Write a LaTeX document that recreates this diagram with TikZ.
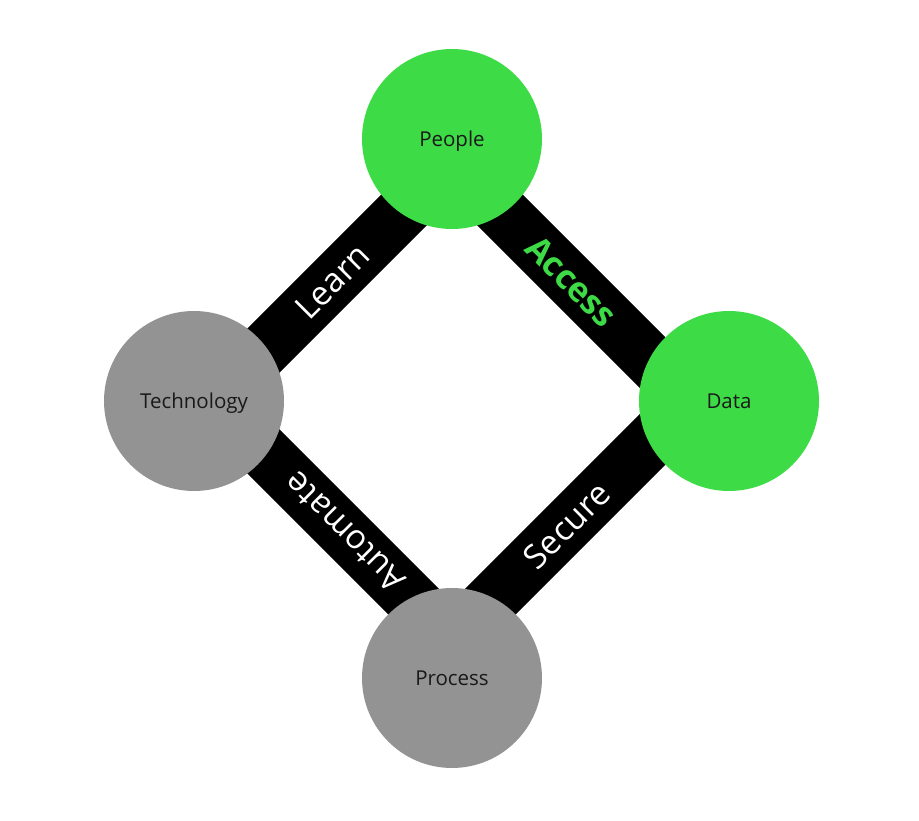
\documentclass[tikz,border=0pt]{standalone}
\usepackage{fontspec}
\setmainfont{Open Sans}
\usetikzlibrary{backgrounds}
\definecolor{leafgreen}{RGB}{61,219,70}
\definecolor{stonegray}{RGB}{147,147,147}

\begin{document}
\begin{tikzpicture}[
  x=1pt, y=-1pt,
  hub/.style={circle, minimum size=180pt, inner sep=0pt, text depth=0pt, font=\fontsize{20.5}{24}\selectfont, text=black!90},
  keyhub/.style={hub, fill=leafgreen},
  basehub/.style={hub, fill=stonegray},
  band/.style={line width=54pt, black, line cap=rect},
  tag/.style={font=\fontsize{33.5}{38}\selectfont, text=white},
  keytag/.style={font=\fontsize{34}{38}\selectfont\bfseries, text=leafgreen}
]
  \useasboundingbox (0,0) rectangle (919,821);

  \node[keyhub] (people) at (452,139) {People};
  \node[basehub] (tech) at (194,401) {Technology};
  \node[keyhub] (data) at (729,401) {Data};
  \node[basehub] (process) at (452,678) {Process};

  % bands behind the circles
  \begin{pgfonlayer}{background}
    \coordinate (ntop) at ([yshift=-23pt]people.center);
    \coordinate (nleft) at ([xshift=19pt]tech.center);
    \coordinate (nright) at ([xshift=-38pt]data.center);
    \coordinate (nbottom) at ([yshift=38pt]process.center);

    \draw[band] (ntop) -- node[tag, rotate=45] {Learn} (nleft);
    \draw[band] (ntop) -- node[keytag, rotate=-45] {Access} (nright);
    \draw[band] (nleft) -- node[tag, rotate=135, pos=0.55] {Automate} (nbottom);
    \draw[band] (nright) -- node[tag, rotate=45, pos=0.52] {Secure} (nbottom);
  \end{pgfonlayer}
\end{tikzpicture}
\end{document}
